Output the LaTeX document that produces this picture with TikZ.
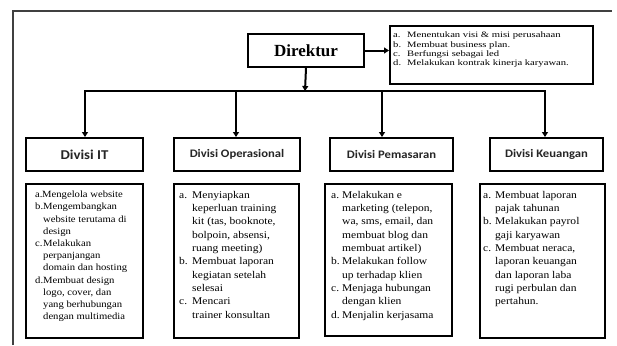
\documentclass[tikz,border=0pt]{standalone}
\usepackage{fontspec}
\usetikzlibrary{arrows.meta}
\newfontfamily\cserif[FakeStretch=1.12]{Liberation Serif}
\newfontfamily\iserif[FakeStretch=1.28]{Liberation Serif}
\newfontfamily\hsans[FakeStretch=1.1]{Carlito}
\newfontfamily\dserif{Liberation Serif}
\newcommand\mylbl[2]{\makebox[#1][l]{#2}}
\newcommand\myind[1]{\hspace*{#1}}
\begin{document}
\begin{tikzpicture}[x=1pt,y=-1pt,
  box/.style={draw=black, line width=2pt, inner sep=0pt, anchor=north west},
  txt/.style={anchor=north west, inner sep=0pt, align=left},
  hdr/.style={box, minimum height=33pt, font=\hsans\bfseries\fontsize{11.5}{13}\selectfont, text=black!85},
  cbox/.style={box},
  ctext/.style={txt, font=\cserif\fontsize{10.3}{13.3}\selectfont},
  conn/.style={line width=2pt, -{Triangle[length=5pt,width=6pt]}},
  frame/.style={line width=1.3pt, draw=black!75}]
\useasboundingbox (0,0) rectangle (617,345);
\fill[white] (0,0) rectangle (617,345);
\draw[frame] (13,345) -- (13,11) -- (612,11);

% Direktur and its duties
\node[box, minimum width=116pt, minimum height=33pt,
  font=\dserif\bfseries\fontsize{17}{20}\selectfont] (dir) at (247,33) {Direktur};
\node[box, minimum width=203pt, minimum height=58pt] (info) at (389,25) {};
\node[txt, font=\iserif\fontsize{8.3}{9.2}\selectfont] (infot) at (393,32) {%
\mylbl{14pt}{a.}Menentukan visi \& misi perusahaan\\
\mylbl{14pt}{b.}Membuat business plan.\\
\mylbl{14pt}{c.}Berfungsi sebagai led\\
\mylbl{14pt}{d.}Melakukan kontrak kinerja karyawan.};

% division headers
\node[hdr, minimum width=117pt, font=\hsans\bfseries\fontsize{13.5}{15}\selectfont] (hIT) at (25,137) {Divisi IT};
\node[hdr, minimum width=126pt] (hOp) at (173,137) {Divisi Operasional};
\node[hdr, minimum width=123pt] (hPem) at (329,137) {Divisi Pemasaran};
\node[hdr, minimum width=113pt] (hKeu) at (489,137) {Divisi Keuangan};

% content boxes
\node[cbox, minimum width=117pt, minimum height=154pt] (cIT) at (25,183) {};
\node[cbox, minimum width=125pt, minimum height=154pt] (cOp) at (173,183) {};
\node[cbox, minimum width=127pt, minimum height=152pt] (cPem) at (324,183) {};
\node[cbox, minimum width=125pt, minimum height=154pt] (cKeu) at (479,183) {};

\node[txt, font=\cserif\fontsize{9.5}{12.2}\selectfont] (tIT) at (35,191) {%
\mylbl{7pt}{a.}Mengelola website\\
\mylbl{8pt}{b.}Mengembangkan\\
\myind{8pt}website terutama di\\
\myind{8pt}design\\
\mylbl{8pt}{c.}Melakukan\\
\myind{8pt}perpanjangan\\
\myind{8pt}domain dan hosting\\
\mylbl{8pt}{d.}Membuat design\\
\myind{8pt}logo, cover, dan\\
\myind{8pt}yang berhubungan\\
\myind{8pt}dengan multimedia};

\node[ctext] (tOp) at (179,191) {%
\mylbl{13pt}{a.}Menyiapkan\\
\myind{13pt}keperluan training\\
\myind{13pt}kit (tas, booknote,\\
\myind{13pt}bolpoin, absensi,\\
\myind{13pt}ruang meeting)\\
\mylbl{13pt}{b.}Membuat laporan\\
\myind{13pt}kegiatan setelah\\
\myind{13pt}selesai\\
\mylbl{13pt}{c.}Mencari\\
\myind{13pt}trainer konsultan};

\node[ctext] (tPem) at (331,191) {%
\mylbl{11pt}{a.}Melakukan e\\
\myind{11pt}marketing (telepon,\\
\myind{11pt}wa, sms, email, dan\\
\myind{11pt}membuat blog dan\\
\myind{11pt}membuat artikel)\\
\mylbl{11pt}{b.}Melakukan follow\\
\myind{11pt}up terhadap klien\\
\mylbl{11pt}{c.}Menjaga hubungan\\
\myind{11pt}dengan klien\\
\mylbl{11pt}{d.}Menjalin kerjasama};

\node[ctext] (tKeu) at (483,191) {%
\mylbl{12pt}{a.}Membuat laporan\\
\myind{12pt}pajak tahunan\\
\mylbl{12pt}{b.}Melakukan payrol\\
\myind{12pt}gaji karyawan\\
\mylbl{12pt}{c.}Membuat neraca,\\
\myind{12pt}laporan keuangan\\
\myind{12pt}dan laporan laba\\
\myind{12pt}rugi perbulan dan\\
\myind{12pt}pertahun.};

% connectors
\coordinate (bus) at (305,91);
\coordinate (b1) at (85,91);
\coordinate (b2) at (236,91);
\coordinate (b3) at (382,91);
\coordinate (b4) at (545,91);
\draw[conn] (dir.east) -- (dir.east -| info.west);
\draw[conn] (dir.south) -- (bus);
\draw[conn] (bus) -- (b1) -- (b1 |- hIT.north);
\draw[conn] (bus) -- (b4) -- (b4 |- hKeu.north);
\draw[conn] (b2) -- (b2 |- hOp.north);
\draw[conn] (b3) -- (b3 |- hPem.north);
\end{tikzpicture}
\end{document}
